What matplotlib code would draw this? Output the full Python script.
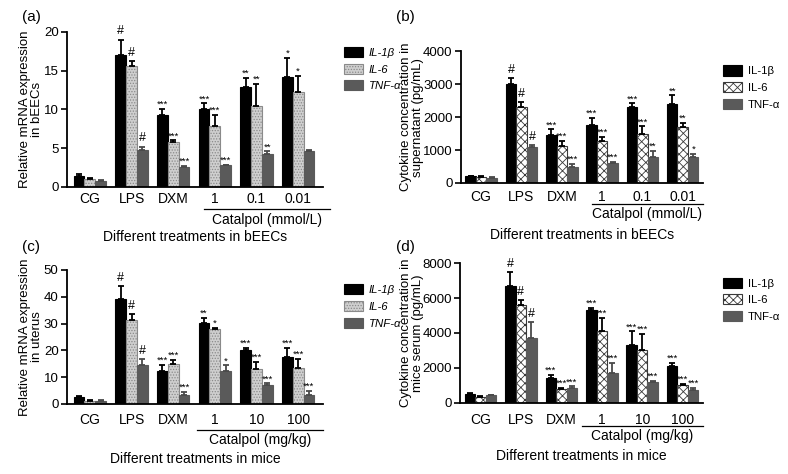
import numpy as np
import matplotlib
matplotlib.use("Agg")
import matplotlib.pyplot as plt
import matplotlib.transforms as mtransforms

plt.rcParams['font.family'] = ['Liberation Sans', 'DejaVu Sans']
plt.rcParams['hatch.linewidth'] = 0.6

groups = ["CG", "LPS", "DXM", "1", "0.1", "0.01"]
groups_mice = ["CG", "LPS", "DXM", "1", "10", "100"]

# (a) relative mRNA expression in bEECs
a_il1b = [1.4, 17.0, 9.3, 10.0, 12.9, 14.2]
a_il1b_err = [0.3, 2.0, 0.8, 0.8, 1.2, 2.5]
a_il6 = [1.0, 15.6, 5.8, 7.9, 10.5, 12.2]
a_il6_err = [0.2, 0.6, 0.2, 1.4, 2.8, 2.1]
a_tnf = [0.75, 4.8, 2.6, 2.8, 4.2, 4.6]
a_tnf_err = [0.1, 0.4, 0.15, 0.1, 0.4, 0.15]
a_marks = [["", "#", "***", "***", "**", "*"],
           ["", "#", "***", "***", "**", "*"],
           ["", "#", "***", "***", "**", ""]]

# (b) cytokine concentration in supernatant
b_il1b = [200, 3000, 1450, 1750, 2300, 2400]
b_il1b_err = [15, 200, 180, 230, 120, 260]
b_il6 = [180, 2300, 1120, 1270, 1500, 1700]
b_il6_err = [20, 150, 150, 130, 220, 130]
b_tnf = [150, 1100, 490, 600, 780, 780]
b_tnf_err = [20, 50, 100, 50, 200, 100]
b_marks = [["", "#", "***", "***", "***", "**"],
           ["", "#", "***", "***", "***", "**"],
           ["", "#", "***", "***", "**", "*"]]

# (c) relative mRNA expression in uterus
c_il1b = [2.5, 39.2, 12.2, 30.2, 20.2, 17.6]
c_il1b_err = [0.5, 4.8, 2.5, 2.0, 0.8, 3.3]
c_il6 = [1.2, 31.5, 15.0, 28.0, 13.2, 13.4]
c_il6_err = [0.3, 2.0, 1.5, 0.5, 2.5, 3.5]
c_tnf = [1.1, 14.5, 3.3, 12.2, 7.2, 3.5]
c_tnf_err = [0.3, 2.3, 1.2, 2.2, 0.5, 1.5]
c_marks = [["", "#", "***", "**", "***", "***"],
           ["", "#", "***", "*", "***", "***"],
           ["", "#", "***", "*", "***", "***"]]

# (d) cytokine concentration in mice serum
d_il1b = [520, 6700, 1400, 5330, 3300, 2100]
d_il1b_err = [30, 800, 200, 100, 800, 180]
d_il6 = [340, 5580, 780, 4100, 3030, 1020]
d_il6_err = [60, 300, 80, 780, 900, 60]
d_tnf = [430, 3700, 880, 1730, 1210, 720]
d_tnf_err = [50, 900, 60, 550, 50, 150]
d_marks = [["", "#", "***", "***", "***", "***"],
           ["", "#", "***", "***", "***", "***"],
           ["", "#", "***", "***", "***", "***"]]


def panel(ax, vals, errs, marks, labels, names, il6_style, ylim, yticks,
          ylabel, unit, xlabel, xl, lx, ly, ylx, xpad):
    x = np.arange(len(labels))
    w = 0.26
    colors = ['black', il6_style[0], '#5a5a5a']
    hatches = [None, il6_style[1], None]
    edges = ['black', il6_style[2], '#5a5a5a']
    top = ylim[1]
    for i in range(3):
        v = np.array(vals[i])
        e = np.array(errs[i])
        xs = x + (i - 1) * w
        ax.bar(xs, v, w, color=colors[i], hatch=hatches[i], edgecolor=edges[i],
               linewidth=0.8, label=names[i], zorder=2)
        ax.errorbar(xs, v, yerr=[np.zeros_like(e), e], fmt='none',
                    ecolor='black' if i < 2 else '#4a4a4a', elinewidth=1.3,
                    capsize=2, capthick=1.3, zorder=3)
        for j in range(len(labels)):
            m = marks[i][j]
            if m:
                fs = 9 if m == "#" else 6.8
                dy = 0.015 * top if m == "#" else 0.0
                ax.text(xs[j], v[j] + e[j] + dy, m, ha='center', va='bottom',
                        fontsize=fs)
    ax.set_xlim(*xl)
    ax.set_ylim(*ylim)
    ax.set_yticks(yticks)
    ax.set_xticks(x)
    ax.set_xticklabels(labels, fontsize=10)
    ax.tick_params(axis='y', labelsize=9.5, length=4, width=1.2, pad=2)
    ax.tick_params(axis='x', length=0, pad=xpad)
    for s in ['top', 'right']:
        ax.spines[s].set_visible(False)
    for s in ['left', 'bottom']:
        ax.spines[s].set_linewidth(1.3)
    ax.set_ylabel(ylabel, fontsize=9.5, linespacing=1.0)
    ax.yaxis.set_label_coords(ylx, 0.5)
    tr = mtransforms.blended_transform_factory(ax.transData, ax.transAxes)
    ax.plot(lx, [ly[0], ly[0]], color='black', lw=0.9,
            transform=tr, clip_on=False)
    ax.text((lx[0] + lx[1]) / 2, ly[1], unit, transform=tr,
            ha='center', va='center', fontsize=10)
    ax.text(0.5, ly[2], xlabel, transform=ax.transAxes, ha='center',
            va='center', fontsize=10)
    leg = ax.legend(loc='upper left', bbox_to_anchor=(1.04, 0.97), frameon=False,
                    fontsize=8.2, handlelength=1.7, handleheight=1.0,
                    labelspacing=0.5, handletextpad=0.5)
    return leg


fig = plt.figure(figsize=(7.88, 4.74), dpi=100)
ax_a = fig.add_axes([0.085, 0.6055, 0.325, 0.327])
ax_b = fig.add_axes([0.585, 0.614, 0.307, 0.278])
ax_c = fig.add_axes([0.085, 0.1477, 0.325, 0.2827])
ax_d = fig.add_axes([0.584, 0.150, 0.308, 0.295])

names_it = ['IL-1β', 'IL-6', 'TNF-α']
gray_style = ('#cfcfcf', '......', '#8a8a8a')
check_style = ('white', 'xxxx', '#3a3a3a')

la = panel(ax_a, [a_il1b, a_il6, a_tnf], [a_il1b_err, a_il6_err, a_tnf_err], a_marks,
           groups, names_it, gray_style, (0, 20), [0, 5, 10, 15, 20],
           'Relative mRNA expression\nin bEECs', 'Catalpol (mmol/L)',
           'Different treatments in bEECs', (-0.55, 5.6), (2.75, 5.76),
           (-0.142, -0.213, -0.323), -0.092, 3.5)
lb = panel(ax_b, [b_il1b, b_il6, b_tnf], [b_il1b_err, b_il6_err, b_tnf_err], b_marks,
           groups, names_it, check_style, (0, 4000), [0, 1000, 2000, 3000, 4000],
           'Cytokine concentration in\nsupernatant (pg/mL)', 'Catalpol (mmol/L)',
           'Different treatments in bEECs', (-0.5, 5.5), (2.75, 5.5),
           (-0.159, -0.235, -0.394), -0.152, 5)
lc = panel(ax_c, [c_il1b, c_il6, c_tnf], [c_il1b_err, c_il6_err, c_tnf_err], c_marks,
           groups_mice, names_it, gray_style, (0, 50), [0, 10, 20, 30, 40, 50],
           'Relative mRNA expression\nin uterus', 'Catalpol (mg/kg)',
           'Different treatments in mice', (-0.55, 5.6), (2.58, 5.59),
           (-0.194, -0.269, -0.41), -0.092, 6.5)
ld = panel(ax_d, [d_il1b, d_il6, d_tnf], [d_il1b_err, d_il6_err, d_tnf_err], d_marks,
           groups_mice, names_it, check_style, (0, 8000), [0, 2000, 4000, 6000, 8000],
           'Cytokine concentration in\nmice serum (pg/mL)', 'Catalpol (mg/kg)',
           'Different treatments in mice', (-0.5, 5.5), (2.51, 5.5),
           (-0.164, -0.235, -0.379), -0.148, 7)

for leg in (la, lc):
    for t in leg.get_texts():
        t.set_style('italic')

fig.text(22 / 788, 1 - 17 / 474, '(a)', fontsize=11, va='center')
fig.text(396 / 788, 1 - 17 / 474, '(b)', fontsize=11, va='center')
fig.text(22 / 788, 1 - 247 / 474, '(c)', fontsize=11, va='center')
fig.text(396 / 788, 1 - 247 / 474, '(d)', fontsize=11, va='center')

fig.savefig('out.png', dpi=100)
